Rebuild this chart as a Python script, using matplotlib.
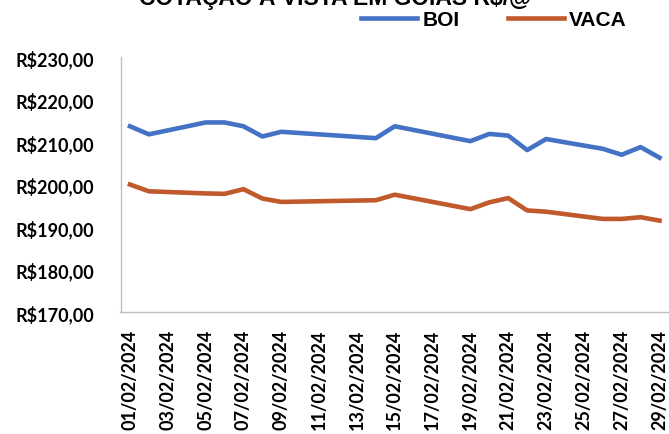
import matplotlib
matplotlib.use("Agg")
import matplotlib.pyplot as plt
import matplotlib.dates as mdates
from matplotlib.ticker import FuncFormatter
import pandas as pd

# Cotação diária (R$/@) – fevereiro de 2024, dias úteis
datas = ["01/02/2024", "02/02/2024", "05/02/2024", "06/02/2024", "07/02/2024",
         "08/02/2024", "09/02/2024", "14/02/2024", "15/02/2024", "19/02/2024",
         "20/02/2024", "21/02/2024", "22/02/2024", "23/02/2024", "26/02/2024",
         "27/02/2024", "28/02/2024", "29/02/2024"]
boi = [213.7, 211.8, 214.6, 214.6, 213.7, 211.3, 212.4, 210.9, 213.7, 210.2,
       211.9, 211.5, 208.1, 210.7, 208.4, 207.0, 208.8, 206.3]
vaca = [200.0, 198.4, 197.9, 197.8, 198.9, 196.7, 195.9, 196.3, 197.6, 194.2,
        195.8, 196.8, 193.9, 193.6, 191.9, 191.9, 192.3, 191.5]
y_ticks = [170, 180, 190, 200, 210, 220, 230]

titulo = "COTAÇÃO À VISTA EM GOIÁS R$/@"
x = pd.to_datetime(datas, format="%d/%m/%Y")

W, H = 669, 435
fig = plt.figure(figsize=(W / 100, H / 100), dpi=100)
ax = fig.add_axes([120.5 / W, (H - 313) / H, (W - 120.5) / W, (313 - 58) / H])

ax.plot(x, boi, color="#4472C4", lw=3.3, label="BOI", solid_joinstyle="round")
ax.plot(x, vaca, color="#C0592B", lw=3.3, label="VACA", solid_joinstyle="round")

ax.set_ylim(170, 230)
ax.set_yticks(y_ticks)
ax.yaxis.set_major_formatter(FuncFormatter(lambda v, p: f"R${v:.2f}".replace(".", ",")))
ax.set_xlim(pd.Timestamp("2024-01-31 12:00"), pd.Timestamp("2024-02-29 12:00"))
ax.xaxis.set_major_locator(mdates.DayLocator(bymonthday=range(1, 30, 2)))
ax.xaxis.set_major_formatter(mdates.DateFormatter("%d/%m/%Y"))

for s in ["top", "right"]:
    ax.spines[s].set_visible(False)
for s in ["left", "bottom"]:
    ax.spines[s].set_color("#BFBFBF")
    ax.spines[s].set_linewidth(1.0)

ax.tick_params(axis="y", length=0, pad=19)
ax.tick_params(axis="x", length=0, pad=12)
for lab in ax.get_yticklabels():
    lab.set_fontfamily("Lato")
    lab.set_fontweight("bold")
    lab.set_fontsize(13)
for lab in ax.get_xticklabels():
    lab.set_fontfamily("Lato")
    lab.set_fontweight("bold")
    lab.set_fontsize(13)
    lab.set_rotation(90)

# Título parcialmente fora do topo da figura
fig.text(335 / W, 1 - 5.5 / H, titulo, ha="center", va="baseline",
         fontfamily="Liberation Sans", fontweight="bold", fontsize=16.5)

fig.legend(loc="center left", bbox_to_anchor=(361 / W, 1 - 21 / H), ncol=2,
           frameon=False, borderpad=0, borderaxespad=0, handlelength=2.7,
           handletextpad=0.25, columnspacing=2.3,
           prop={"family": "Liberation Sans", "weight": "bold", "size": 15})

fig.savefig("out.png", dpi=100)
